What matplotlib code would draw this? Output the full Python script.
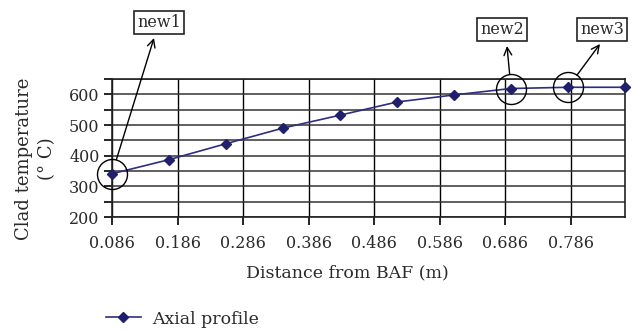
import matplotlib
matplotlib.use("Agg")
import matplotlib.pyplot as plt
import numpy as np

# Axial clad temperature profile
distance_m = [0.086, 0.173, 0.260, 0.347, 0.434, 0.521, 0.608, 0.695, 0.782, 0.869]
clad_temp_c = [341, 387, 439, 490, 532, 575, 598, 619, 623, 623]
x_ticks = [0.086, 0.186, 0.286, 0.386, 0.486, 0.586, 0.686, 0.786]
x_tick_labels = ["0.086", "0.186", "0.286", "0.386", "0.486", "0.586", "0.686", "0.786"]
y_ticks = [200, 300, 400, 500, 600]
highlight_idx = [0, 7, 8]
highlight_names = ["new1", "new2", "new3"]

W, H, DPI = 639, 333, 100
plt.rcParams["font.family"] = ["DejaVu Serif"]
TXT = "#2a2a2a"
fig = plt.figure(figsize=(W / DPI, H / DPI), dpi=DPI)

def fx(px):
    return px / W

def fy(py):
    return 1 - py / H

ax = fig.add_axes([fx(112), fy(217), fx(625) - fx(112), fy(79) - fy(217)])

ax.set_xlim(distance_m[0], distance_m[-1])
ax.set_ylim(200, 650)

ax.set_xticks(x_ticks)
ax.set_xticklabels(x_tick_labels)
ax.set_yticks(y_ticks)
ax.set_yticks(np.arange(250, 651, 100), minor=True)
ax.tick_params(axis="both", which="both", direction="out", length=6, width=1.2,
               color="black", labelsize=11.5, labelcolor=TXT)
ax.tick_params(axis="x", pad=7)
ax.tick_params(axis="y", pad=3)

ax.grid(True, which="both", axis="y", color="#333333", linewidth=1.1)
ax.grid(True, which="major", axis="x", color="black", linewidth=1.0)
ax.set_axisbelow(True)
for s in ax.spines.values():
    s.set_color("#222222")
    s.set_linewidth(1.2)

line, = ax.plot(distance_m, clad_temp_c, color="#2E2E80", linewidth=1.2,
                marker="D", markersize=5.5, markerfacecolor="#1F1F6B",
                markeredgecolor="#1F1F6B", clip_on=False, zorder=5,
                label="Axial profile")

# circles around the highlighted points
hx = [distance_m[i] for i in highlight_idx]
hy = [clad_temp_c[i] for i in highlight_idx]
ax.plot(hx, hy, linestyle="none", marker="o", markersize=21.6,
        markerfacecolor="none", markeredgecolor="black", markeredgewidth=1.0,
        clip_on=False, zorder=6)

# labelled boxes with arrows pointing to them
box_centers = [(159, 22.5), (502, 29.5), (602, 29.5)]
arrow_tips = [(154, 38), (507, 46), (600, 44)]
for name, i, (bx, by), (tx, ty) in zip(highlight_names, highlight_idx, box_centers, arrow_tips):
    fig.text(fx(bx), fy(by), name, ha="center", va="center", fontsize=11.5,
             color=TXT,
             bbox=dict(boxstyle="square,pad=0.2", facecolor="white",
                       edgecolor="#222222", linewidth=1.2))
    ax.annotate("", xy=(fx(tx), fy(ty)), xycoords="figure fraction",
                xytext=(distance_m[i], clad_temp_c[i]), textcoords="data",
                arrowprops=dict(arrowstyle="->", color="black", lw=1.0,
                                shrinkA=10.8, shrinkB=0,
                                mutation_scale=14))

fig.text(fx(24), fy(159), "Clad temperature", rotation=90, ha="center",
         va="center", fontsize=13, color=TXT)
fig.text(fx(47), fy(159), "(° C)", rotation=90, ha="center",
         va="center", fontsize=13, color=TXT)
fig.text(fx(347), fy(273), "Distance from BAF (m)", ha="center", va="center",
         fontsize=12.5, color=TXT)

fig.legend(handles=[line], loc="center left",
           bbox_to_anchor=(fx(106), fy(319)), frameon=False, fontsize=12.5,
           borderpad=0, borderaxespad=0,
           handlelength=2.0, handletextpad=0.65, labelcolor=TXT)

fig.savefig("out.png", dpi=DPI)
